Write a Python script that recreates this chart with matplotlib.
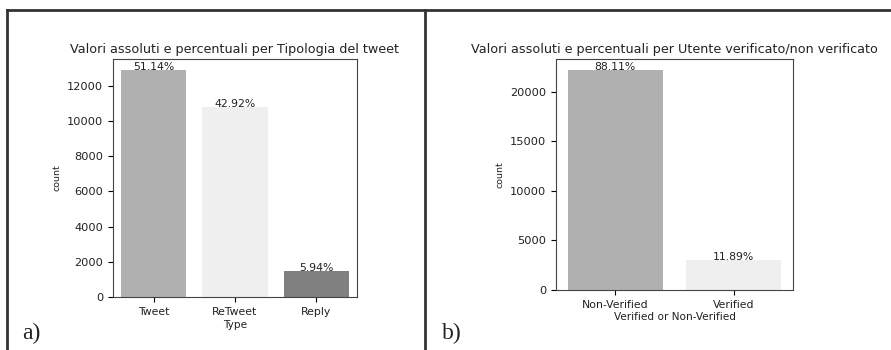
import matplotlib

matplotlib.use("Agg")
import matplotlib.pyplot as plt
from matplotlib.lines import Line2D

# panel a) tweet type
type_labels = ["Tweet", "ReTweet", "Reply"]
type_counts = [12882, 10812, 1496]
type_colors = ["#b0b0b0", "#efefef", "#808080"]

# panel b) verified users
verif_labels = ["Non-Verified", "Verified"]
verif_counts = [22195, 2995]
verif_colors = ["#b0b0b0", "#efefef"]

W, H = 891, 350
fig = plt.figure(figsize=(W / 100, H / 100), dpi=100)


def px_axes(left, top, right, bottom):
    return fig.add_axes([left / W, 1 - bottom / H, (right - left) / W, (bottom - top) / H])


def count_panel(ax, labels, counts, colors, title, xlabel, yticks):
    x = list(range(len(labels)))
    bars = ax.bar(x, counts, width=0.8, color=colors)
    total = sum(counts)
    for b, c in zip(bars, counts):
        ax.annotate(f"{100 * c / total:.2f}%", (b.get_x() + b.get_width() / 2, c),
                    ha="center", va="baseline", fontsize=7.8, color="#222222")
    ax.set_xlim(-0.5, len(labels) - 0.5)
    ax.set_ylim(0, max(counts) * 1.05)
    ax.set_xticks(x)
    ax.set_xticklabels(labels, fontsize=7.8, color="#222222")
    ax.set_yticks(yticks)
    ax.tick_params(axis="y", labelsize=8.2, labelcolor="#222222")
    ax.set_title(title, fontsize=9.2, pad=4, color="#222222")
    ax.set_xlabel(xlabel, fontsize=7.6, labelpad=2, color="#222222")
    ax.set_ylabel("count", fontsize=6.8, color="#222222")
    for s in ax.spines.values():
        s.set_color("#444444")


ax1 = px_axes(113, 59, 357, 297)
count_panel(ax1, type_labels, type_counts, type_colors,
            "Valori assoluti e percentuali per Tipologia del tweet", "Type",
            [0, 2000, 4000, 6000, 8000, 10000, 12000])

ax2 = px_axes(556, 59, 793, 290)
count_panel(ax2, verif_labels, verif_counts, verif_colors,
            "Valori assoluti e percentuali per Utente verificato/non verificato",
            "Verified or Non-Verified", [0, 5000, 10000, 15000, 20000])

# outer frame of the composite figure
frame = dict(color="#333333", linewidth=2, transform=fig.transFigure)
fig.add_artist(Line2D([7 / W, 1], [1 - 10 / H, 1 - 10 / H], **frame))
fig.add_artist(Line2D([7 / W, 7 / W], [0, 1 - 10 / H], **frame))
fig.add_artist(Line2D([425 / W, 425 / W], [0, 1 - 10 / H], **frame))

fig.text(22 / W, 1 - 339 / H, "a)", fontsize=17, family="Liberation Serif", color="#222222")
fig.text(442 / W, 1 - 339 / H, "b)", fontsize=17, family="Liberation Serif", color="#222222")

fig.savefig("out.png", dpi=100)
